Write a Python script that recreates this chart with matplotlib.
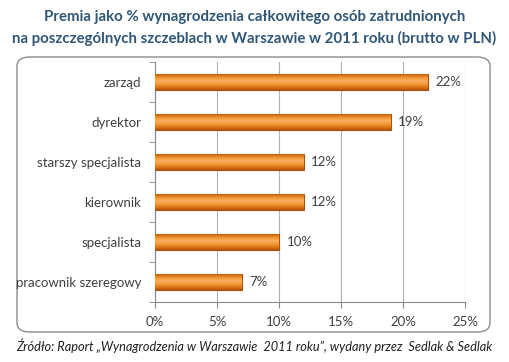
import numpy as np
import matplotlib.pyplot as plt
from matplotlib.patches import FancyBboxPatch
from matplotlib.colors import LinearSegmentedColormap

categories = ["zarząd", "dyrektor", "starszy specjalista", "kierownik",
              "specjalista", "pracownik szeregowy"]
values = [22, 19, 12, 12, 10, 7]
labels = ["22%", "19%", "12%", "12%", "10%", "7%"]
xticks = [0, 5, 10, 15, 20, 25]

plt.rcParams['font.family'] = ['Lato', 'DejaVu Sans']

fig = plt.figure(figsize=(5.09, 3.62), dpi=100)

# rounded frame around the plot area
frame = FancyBboxPatch((17 / 509, 1 - 332 / 362), (490 - 17) / 509, (332 - 57) / 362,
                       boxstyle="round,pad=0,rounding_size=0.025",
                       transform=fig.transFigure, facecolor="white",
                       edgecolor="#8c8c8c", linewidth=1.0, zorder=-5)
fig.patches.append(frame)

ax = fig.add_axes([155 / 509, 1 - 302 / 362, (465 - 155) / 509, (302 - 62) / 362])
ax.set_facecolor("none")
ax.set_zorder(2)

y = np.arange(len(categories))
h = 0.38

# vertical gradient to mimic the cylinder-like bars
cmap = LinearSegmentedColormap.from_list(
    "bar", ["#c2600f", "#f2902a", "#f9b060", "#f49c3e", "#e27c1a", "#b5560d"])
grad = np.linspace(0, 1, 50).reshape(-1, 1)
bars = ax.barh(y, values, height=h, color="#f08a24", edgecolor="#a8500c",
               linewidth=0.8, zorder=3)
for b in bars:
    x0, y0 = b.get_x(), b.get_y()
    im = ax.imshow(grad, cmap=cmap, aspect="auto",
                   extent=(x0, x0 + b.get_width(), y0 + b.get_height(), y0),
                   zorder=3.5)
    im.set_clip_path(b)

for yi, v, lab in zip(y, values, labels):
    ax.text(v + 0.6, yi, lab, va="center", ha="left", fontsize=9.5, color="#404040",
            zorder=4)

ax.set_xlim(0, 25)
ax.set_ylim(len(categories) - 0.5, -0.5)
ax.set_xticks(xticks)
ax.set_xticklabels([f"{t}%" for t in xticks], fontsize=9.5, color="#404040")
ax.set_yticks(y)
ax.set_yticklabels(categories, fontsize=9.5, color="#404040")
ax.tick_params(axis="y", length=0, pad=10)
ax.set_yticks(np.arange(len(categories) + 1) - 0.5, minor=True)
ax.tick_params(axis="y", which="minor", length=4, color="#888888")
ax.tick_params(axis="x", length=4, color="#888888", pad=6)
ax.grid(axis="x", color="#b0b0b0", linewidth=0.8, zorder=0)
for s in ["top", "right"]:
    ax.spines[s].set_visible(False)
ax.spines["left"].set_color("#888888")
ax.spines["bottom"].set_color("#888888")

fig.text(0.5, 1 - 17 / 362, "Premia jako % wynagrodzenia całkowitego osób zatrudnionych",
         ha="center", va="center", fontsize=10.8, fontweight="bold", color="#2f5677")
fig.text(0.5, 1 - 38 / 362, "na poszczególnych szczeblach w Warszawie w 2011 roku (brutto w PLN)",
         ha="center", va="center", fontsize=10.8, fontweight="bold", color="#2f5677")
fig.text(0.5, 1 - 346 / 362,
         "Źródło: Raport „Wynagrodzenia w Warszawie  2011 roku”, wydany przez  Sedlak & Sedlak",
         ha="center", va="center", fontsize=9.2, style="italic", color="#202020")

fig.savefig("out.png", dpi=100)
